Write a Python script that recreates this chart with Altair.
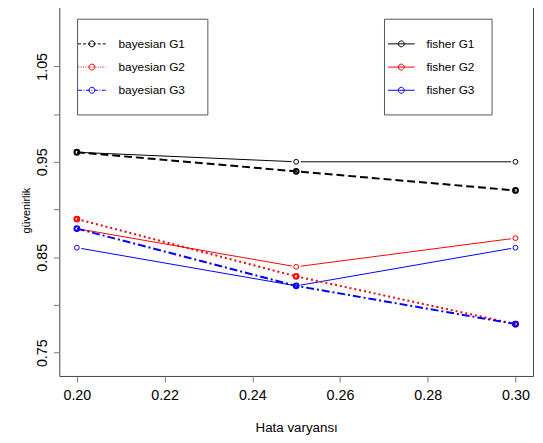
import altair as alt
import pandas as pd

# ---- data ----
x_vals = [0.20, 0.25, 0.30]
series_bayes = ["bayesian G1", "bayesian G2", "bayesian G3"]
series_fisher = ["fisher G1", "fisher G2", "fisher G3"]
bayes_g1 = [0.96, 0.94, 0.92]
bayes_g2 = [0.89, 0.83, 0.78]
bayes_g3 = [0.88, 0.82, 0.78]
fisher_g1 = [0.96, 0.95, 0.95]
fisher_g2 = [0.88, 0.84, 0.87]
fisher_g3 = [0.86, 0.82, 0.86]
series_colors = ["black", "red", "blue"]
x_ticks = [0.20, 0.22, 0.24, 0.26, 0.28, 0.30]
y_ticks = [0.75, 0.80, 0.85, 0.90, 0.95, 1.00, 1.05]

rows = []
for name, vals in zip(series_bayes, [bayes_g1, bayes_g2, bayes_g3]):
    for xv, v in zip(x_vals, vals):
        rows.append({"x": xv, "y": v, "series": name, "method": "bayesian"})
for name, vals in zip(series_fisher, [fisher_g1, fisher_g2, fisher_g3]):
    for xv, v in zip(x_vals, vals):
        rows.append({"x": xv, "y": v, "series": name, "method": "fisher"})
df = pd.DataFrame(rows)

FONT = "Liberation Sans"

x_enc = alt.X(
    "x:Q",
    scale=alt.Scale(domain=[0.196, 0.304], nice=False, zero=False),
    axis=alt.Axis(
        values=x_ticks, format=".2f", title="Hata varyansı",
        labelFlush=False, labelOverlap=False, tickSize=6, labelPadding=7,
        labelFontSize=14.5, titleFontSize=13.5, titleY=56,
        titleBaseline="alphabetic",
    ),
)
y_enc = alt.Y(
    "y:Q",
    scale=alt.Scale(domain=[0.7256, 1.1144], nice=False, zero=False),
    axis=alt.Axis(
        values=y_ticks, title="güvenirlik",
        labelExpr="round(datum.value*100) % 10 == 5 ? format(datum.value, '.2f') : ''",
        labelAngle=270, labelAlign="center", labelBaseline="middle",
        labelFlush=False, labelOverlap=False, tickSize=6, labelPadding=11,
        labelFontSize=14.5, titleFontSize=11, titleAngle=270,
        titleX=-30, titleY=208, titleAlign="center", titleBaseline="alphabetic",
    ),
)

# ---- plotted series (no legends) ----
fisher_data = alt.Chart(df).transform_filter(alt.datum.method == "fisher")
bayes_data = alt.Chart(df).transform_filter(alt.datum.method == "bayesian")

color_f_plot = alt.Color("series:N", scale=alt.Scale(domain=series_fisher, range=series_colors), legend=None)
color_b_plot = alt.Color("series:N", scale=alt.Scale(domain=series_bayes, range=series_colors), legend=None)
dash_b_plot = alt.StrokeDash("series:N", scale=alt.Scale(domain=series_bayes, range=[[8, 4], [2, 3], [8, 3, 2, 3]]), legend=None)

fisher_lines = fisher_data.mark_line(strokeWidth=1).encode(x=x_enc, y=y_enc, color=color_f_plot)
fisher_gaps = fisher_data.mark_circle(color="white", size=85, opacity=1).encode(x=x_enc, y=y_enc)
fisher_pts = fisher_data.mark_point(filled=False, size=24, strokeWidth=1, opacity=1).encode(x=x_enc, y=y_enc, color=color_f_plot)
bayes_lines = bayes_data.mark_line(strokeWidth=2).encode(x=x_enc, y=y_enc, color=color_b_plot, strokeDash=dash_b_plot)
bayes_pts = bayes_data.mark_point(filled=False, size=24, strokeWidth=2, opacity=1).encode(x=x_enc, y=y_enc, color=color_b_plot)

layers = [alt.layer(fisher_lines, fisher_gaps, fisher_pts), alt.layer(bayes_lines, bayes_pts)]

# ---- legends: one legend per entry, carried by empty layers ----
empty = alt.Chart(df).transform_filter(alt.datum.x < 0)
legend_dash = [[3, 2], [1, 1.5], [4, 1.5, 1, 1.5]]
row_y = [33.5, 57, 80.5]          # legend entry rows (offsets inside the plot)
base_leg = dict(title=None, orient="none", padding=0, symbolSize=4, symbolStrokeWidth=1,
                labelFont=FONT, labelFontSize=12, labelColor="black")


def carrier(domain, legend, dash=None):
    enc = dict(x=x_enc, y=y_enc,
               color=alt.Color("series:N", scale=alt.Scale(domain=domain, range=series_colors), legend=legend))
    if dash is not None:
        enc["strokeDash"] = alt.StrokeDash("series:N", scale=alt.Scale(domain=domain, range=dash), legend=legend)
    return empty.mark_line(strokeWidth=1).encode(**enc)


line_b = "M-14,0L14,0"
circ = "M3,0A3,3,0,1,1,-3,0A3,3,0,1,1,3,0"
line_f = "M-13.5,0L13.5,0"
frame_b = "M-6,-6M126,91"
frame_f = "M-6,-6M103,91"

# frames
layers.append(carrier(series_bayes, alt.Legend(values=[series_bayes[0]], legendX=18, legendY=14,
                                               strokeColor="#555", symbolType=frame_b, symbolOpacity=0,
                                               labelOpacity=0, **base_leg)))
layers.append(carrier(series_fisher, alt.Legend(values=[series_fisher[0]], legendX=329, legendY=14,
                                                strokeColor="#555", symbolType=frame_f, symbolOpacity=0,
                                                labelOpacity=0, **base_leg)))

for i in range(3):
    # bayesian: dashed line sample with label
    layers.append(carrier(series_bayes, alt.Legend(values=[series_bayes[i]], legendX=27, legendY=row_y[i],
                                                   symbolType=line_b, labelOffset=21, **base_leg),
                          dash=legend_dash))
    # bayesian: solid circle on top of the sample
    layers.append(carrier(series_bayes, alt.Legend(values=[series_bayes[i]], legendX=27, legendY=row_y[i],
                                                   symbolType=circ, labelOffset=21, labelOpacity=0, **base_leg)))
    # fisher: solid line + circle with label
    layers.append(carrier(series_fisher, alt.Legend(values=[series_fisher[i]], legendX=340.5, legendY=row_y[i],
                                                    symbolType=line_f + circ, labelOffset=19.5, **base_leg)))

chart = (
    alt.layer(*layers)
    .resolve_scale(color="independent", strokeDash="independent")
    .properties(
        width=480, height=376,
        padding={"left": 52, "top": -6, "right": 2, "bottom": 60},
        autosize=alt.AutoSizeParams(type="none"),
        background="white",
    )
    .configure_view(stroke="#444", strokeWidth=1)
    .configure_axis(
        grid=False, domain=False, tickColor="#777", labelColor="black",
        titleColor="black", labelFont=FONT, titleFont=FONT, titleFontWeight="normal",
    )
    .configure_legend(labelFont=FONT, symbolStrokeWidth=1)
)

chart.save("out.html", embed_options={"renderer": "svg", "actions": False})
